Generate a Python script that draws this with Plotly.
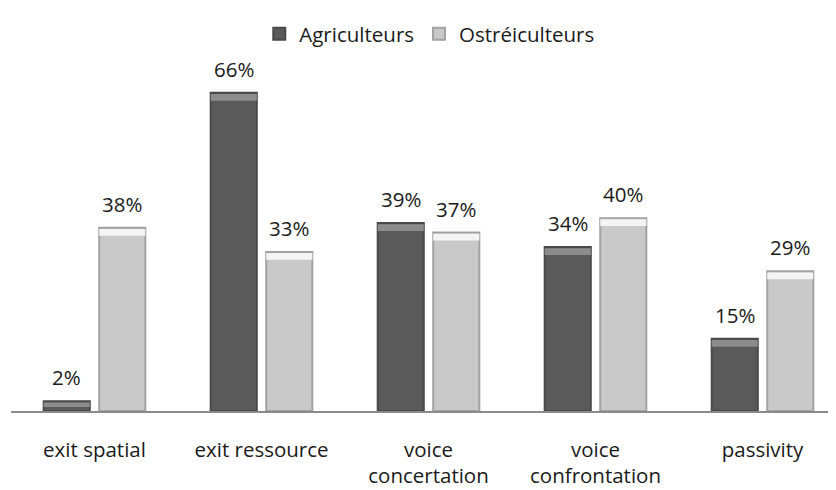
import plotly.graph_objects as go

categories = ["exit spatial", "exit ressource", "voice<br>concertation", "voice<br>confrontation", "passivity"]
agriculteurs = [2, 66, 39, 34, 15]
ostreiculteurs = [38, 33, 37, 40, 29]
series_names = ["Agriculteurs", "Ostréiculteurs"]

FONT = "Open Sans"
FS = 20.5
BEVEL = 1.4          # height of the light top bevel, in % units
YMAX = 72.8
BARGAP = 0.335
GROUPGAP = 0.17
UNITS = 4.94

# the page body has an 8px margin, so the layout is shifted up-left by 8px
ML, MR, MT, MB = 3, 8, 52, 87

fig = go.Figure()

styles = [
    dict(fill="#5a5a5a", edge="#494949", top="#8c8c8c", og="a"),
    dict(fill="#c9c9c9", edge="#a2a2a2", top="#f4f4f4", og="b"),
]
for name, vals, st in zip(series_names, [agriculteurs, ostreiculteurs], styles):
    fig.add_trace(go.Bar(
        x=categories, y=vals, name=name, offsetgroup=st["og"],
        marker=dict(color=st["fill"], line=dict(color=st["edge"], width=2)),
        hoverinfo="x+y",
    ))
    bev = [min(BEVEL, v * 0.45) for v in vals]
    fig.add_trace(go.Bar(
        x=categories, y=bev, base=[v - b - 0.25 for v, b in zip(vals, bev)],
        offsetgroup=st["og"], showlegend=False, hoverinfo="skip",
        marker=dict(color=st["top"], line=dict(width=0)),
    ))

# value labels above each bar
plot_w = 836 - ML - MR
slot_px = plot_w / UNITS * (1 - BARGAP) / 2
for k, vals in enumerate([agriculteurs, ostreiculteurs]):
    sgn = -1 if k == 0 else 1
    for c, v in zip(categories, vals):
        fig.add_annotation(
            x=c, y=v, text=f"{v}%", showarrow=False, yanchor="bottom",
            xshift=sgn * slot_px / 2, yshift=8,
            font=dict(family=FONT, size=FS, color="#1a1a1a"),
        )

fig.update_layout(
    width=836, height=490,
    margin=dict(l=ML, r=MR, t=MT, b=MB),
    paper_bgcolor="white", plot_bgcolor="white",
    barmode="group", bargap=BARGAP, bargroupgap=GROUPGAP,
    font=dict(family=FONT, size=FS, color="#1a1a1a"),
    legend=dict(orientation="h", x=0.507, xanchor="center", y=1 - 26 / 490, yanchor="middle",
                yref="container", font=dict(size=FS), traceorder="normal",
                itemwidth=30),
    showlegend=True,
)
fig.update_xaxes(range=[-0.5, -0.5 + UNITS], showline=True, linecolor="#8a8a8a", linewidth=2,
                 ticks="", showgrid=False, tickfont=dict(size=FS, family=FONT),
                 ticklabelstandoff=19, automargin=False)
fig.update_yaxes(range=[0, YMAX], visible=False, showgrid=False, automargin=False)

fig.write_html("out.html")
